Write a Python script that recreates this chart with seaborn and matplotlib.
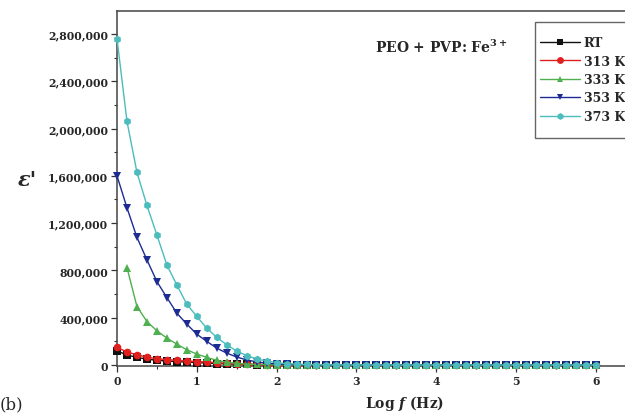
import numpy as np
import pandas as pd
import matplotlib
matplotlib.use("Agg")
import matplotlib.pyplot as plt
from matplotlib.patches import Rectangle
from matplotlib.ticker import MultipleLocator, FuncFormatter, FixedLocator
import seaborn as sns

# log10 of frequency (Hz)
log_f = [0.0, 0.125, 0.25, 0.375, 0.5, 0.625, 0.75, 0.875, 1.0, 1.125, 1.25, 1.375,
         1.5, 1.625, 1.75, 1.875, 2.0, 2.125, 2.25, 2.375, 2.5, 2.625, 2.75, 2.875,
         3.0, 3.125, 3.25, 3.375, 3.5, 3.625, 3.75, 3.875, 4.0, 4.125, 4.25, 4.375,
         4.5, 4.625, 4.75, 4.875, 5.0, 5.125, 5.25, 5.375, 5.5, 5.625, 5.75, 5.875, 6.0]

# real part of dielectric permittivity at each temperature
eps_rt = [120000, 85000, 65000, 50000, 40000, 34000, 29000, 25000, 21000, 17000, 13000, 10000,
          7000, 5000, 3500, 2500, 1800, 1300, 1000, 800, 650, 540, 460, 400,
          350, 310, 280, 250, 225, 205, 190, 175, 160, 150, 140, 130,
          120, 112, 105, 98, 92, 86, 80, 75, 70, 66, 62, 58, 55]
eps_313 = [150000, 110000, 87000, 66000, 54000, 46000, 40000, 34000, 30000, 25000, 20000, 15000,
           11000, 8000, 5500, 3800, 2600, 1900, 1400, 1100, 880, 720, 600, 510,
           440, 390, 350, 310, 280, 255, 235, 215, 200, 185, 172, 160,
           150, 140, 132, 124, 117, 110, 104, 98, 93, 88, 83, 79, 75]
eps_333 = [np.nan, 824000, 495000, 368000, 290000, 228000, 177000, 129000, 93000, 65000, 40000, 24000,
           14000, 8000, 5000, 3200, 2100, 1500, 1100, 850, 680, 560, 470, 400,
           350, 310, 280, 250, 225, 205, 190, 175, 160, 150, 140, 130,
           120, 112, 105, 98, 92, 86, 80, 75, 70, 66, 62, 58, 55]
eps_353 = [1600000, 1330000, 1080000, 890000, 706000, 571000, 439000, 346000, 261000, 200000, 143000, 101000,
           68000, 43000, 27000, 16000, 10000, 6000, 4000, 2600, 1800, 1300, 1000, 800,
           650, 540, 460, 400, 350, 310, 280, 250, 225, 205, 190, 175,
           160, 150, 140, 130, 120, 112, 105, 98, 92, 86, 80, 75, 70]
eps_373 = [2760000, 2060000, 1630000, 1350000, 1100000, 846000, 677000, 514000, 411000, 312000, 234000, 172000,
           118000, 80000, 52000, 33000, 20000, 12000, 8000, 5000, 3200, 2200, 1600, 1200,
           900, 700, 550, 450, 380, 320, 280, 240, 210, 190, 170, 150,
           140, 130, 120, 110, 100, 95, 90, 85, 80, 75, 70, 65, 60]

series_labels = ["RT", "313 K", "333 K", "353 K", "373 K"]
series_values = [eps_rt, eps_313, eps_333, eps_353, eps_373]
series_colors = ["#111111", "#e0201e", "#4fb04f", "#1c2c92", "#4cbcbc"]
series_markers = ["s", "o", "^", "v", "h"]

x_ticks = [0, 1, 2, 3, 4, 5, 6]
y_ticks = [0, 400000, 800000, 1200000, 1600000, 2000000, 2400000, 2800000]

sns.set_theme(style="ticks")
plt.rcParams["font.family"] = ["DejaVu Serif"]
plt.rcParams["font.weight"] = "bold"
plt.rcParams["mathtext.fontset"] = "custom"
plt.rcParams["mathtext.rm"] = "DejaVu Serif:bold"
plt.rcParams["mathtext.bf"] = "DejaVu Serif:bold"
plt.rcParams["mathtext.it"] = "DejaVu Serif:italic:bold"

W, H = 625, 414
fig = plt.figure(figsize=(W / 100, H / 100), dpi=100)
# plot frame runs past the right edge of the canvas
ax = fig.add_axes([117 / W, 47 / H, (700 - 117) / W, 355 / H])

for lab, vals, col, mk in zip(series_labels, series_values, series_colors, series_markers):
    df = pd.DataFrame({"log_f": log_f, "eps": vals}).dropna()
    sns.lineplot(data=df, x="log_f", y="eps", ax=ax, color=col, marker=mk,
                 markersize=5.5, markeredgewidth=0, linewidth=1.0, label=lab,
                 clip_on=False, zorder=3)

ax.set_xlim(0, (700 - 117) / 79.8)
ax.set_ylim(-8000, 2994000)
ax.set_yticks(y_ticks)
ax.yaxis.set_major_formatter(FuncFormatter(lambda v, _: f"{int(round(v)):,}"))
ax.yaxis.set_minor_locator(MultipleLocator(200000))
ax.xaxis.set_major_locator(FixedLocator(x_ticks))
ax.xaxis.set_minor_locator(FixedLocator([0.5, 1.5, 2.5, 3.5, 4.5, 5.5]))
ax.xaxis.set_major_formatter(FuncFormatter(lambda v, _: f"{int(v)}"))

ax.tick_params(axis="both", which="major", direction="out", length=4, width=0.9,
               color="#333333", labelsize=7.8, pad=2.5)
ax.tick_params(axis="both", which="minor", direction="out", length=2.5, width=0.8,
               color="#333333")
for lbl in ax.get_xticklabels() + ax.get_yticklabels():
    lbl.set_fontweight("bold")
for sp in ax.spines.values():
    sp.set_visible(True)
    sp.set_linewidth(1.1)
    sp.set_color("#444444")

ax.set_xlabel("")
ax.set_ylabel("")
fig.text(405 / W, 1 - 404 / H, "Log $f$ (Hz)", ha="center", va="center",
         fontsize=10, fontweight="bold")
fig.text(27 / W, 1 - 180 / H, "ε'", ha="center", va="center",
         fontsize=15, fontweight="bold", fontstyle="italic")
fig.text(375 / W, 1 - 47 / H, "PEO + PVP: Fe$^{3+}$", ha="left", va="center",
         fontsize=10, fontweight="bold")
fig.text(0.0, 1 - 396 / H, "(b)", ha="left", va="top", fontsize=12,
         fontweight="normal")

# legend frame, also running past the right edge
frame = Rectangle((535 / W, 1 - 139 / H), 120 / W, 116 / H,
                  transform=fig.transFigure, fill=True, facecolor="white",
                  edgecolor="#666666", linewidth=1.0, zorder=5, clip_on=False)
ax.add_patch(frame)
leg = ax.legend(loc="upper left", bbox_to_anchor=(540 / W, 1 - 37 / H),
                bbox_transform=fig.transFigure, frameon=False, fontsize=9,
                handlelength=3.2, labelspacing=0.44, borderaxespad=0, borderpad=0,
                handletextpad=0.3, markerscale=0.9)
leg.set_zorder(6)
for t in leg.get_texts():
    t.set_fontweight("bold")

fig.savefig("out.png", dpi=100)
